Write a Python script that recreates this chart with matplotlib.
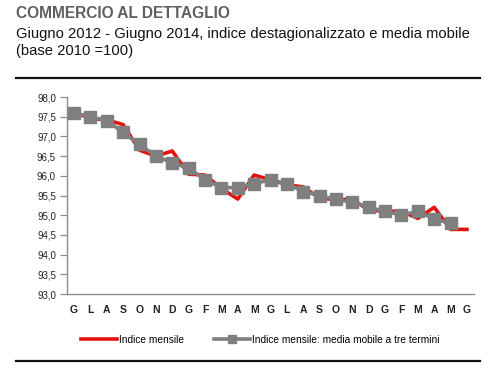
import matplotlib
matplotlib.use("Agg")
import matplotlib.pyplot as plt
from matplotlib.lines import Line2D
from matplotlib.ticker import FuncFormatter

months = ["G","L","A","S","O","N","D","G","F","M","A","M",
          "G","L","A","S","O","N","D","G","F","M","A","M","G"]
indice_mensile = [97.62, 97.45, 97.42, 97.30, 96.65, 96.50, 96.63, 96.04, 96.02, 95.68, 95.41, 96.02,
                  95.90, 95.77, 95.72, 95.43, 95.40, 95.40, 95.13, 95.10, 95.10, 94.92, 95.20, 94.64, 94.64]
media_mobile = [97.60, 97.50, 97.40, 97.10, 96.80, 96.50, 96.33, 96.20, 95.90, 95.70, 95.70, 95.80,
                95.90, 95.80, 95.60, 95.50, 95.40, 95.33, 95.20, 95.10, 95.00, 95.10, 94.90, 94.80]
yticks = [93.0, 93.5, 94.0, 94.5, 95.0, 95.5, 96.0, 96.5, 97.0, 97.5, 98.0]

plt.rcParams['font.family'] = ['Liberation Sans', 'DejaVu Sans']

fig = plt.figure(figsize=(5.0, 3.89), dpi=100)
ax = fig.add_axes([0.134, 0.2442, 0.814, 0.5064])

x = list(range(len(months)))
ax.plot(x, indice_mensile, color='#e3120b', lw=2.6, zorder=2)
ax.plot(range(len(media_mobile)), media_mobile, color='#7f7f7f', lw=2.6,
        marker='s', ms=8, mfc='#7f7f7f', mec='#7f7f7f', zorder=3)

ax.set_xlim(-0.43, 24.43)
ax.set_ylim(93.0, 98.0)
ax.set_yticks(yticks)
ax.yaxis.set_major_formatter(FuncFormatter(lambda v, p: f"{v:.1f}".replace('.', ',')))
ax.set_xticks(x)
ax.set_xticklabels(months)
ax.tick_params(axis='y', length=5, width=0.9, color='#8c8c8c', labelsize=7, pad=3, labelcolor='#222222')
ax.tick_params(axis='x', length=0, labelsize=7.5, pad=8, labelcolor='#222222')
for lab in ax.get_xticklabels():
    lab.set_fontweight('bold')
for s in ['top', 'right']:
    ax.spines[s].set_visible(False)
for s in ['left', 'bottom']:
    ax.spines[s].set_color('#8c8c8c')
    ax.spines[s].set_linewidth(1.0)

fig.text(0.032, 0.965, "COMMERCIO AL DETTAGLIO", fontsize=11.2, fontweight='bold',
         color='#5f5f5f', va='center', ha='left')
fig.text(0.032, 0.912, "Giugno 2012 - Giugno 2014, indice destagionalizzato e media mobile",
         fontsize=10.6, color='#111111', va='center', ha='left')
fig.text(0.032, 0.868, "(base 2010 =100)", fontsize=10.6, color='#111111', va='center', ha='left')

fig.add_artist(Line2D([0.032, 0.96], [0.800, 0.800], color='#111111', lw=1.6))
fig.add_artist(Line2D([0.032, 0.96], [0.072, 0.072], color='#111111', lw=1.6))

handles = [Line2D([], [], color='#e3120b', lw=2.6),
           Line2D([], [], color='#7f7f7f', lw=2.6, marker='s', ms=6)]
leg = fig.legend(handles, ["Indice mensile", "Indice mensile: media mobile a tre termini"],
                 loc='center', bbox_to_anchor=(0.52, 0.126), ncol=2, frameon=False,
                 fontsize=7.3, handlelength=3.6, handletextpad=0.15, columnspacing=3.0)

fig.savefig("out.png", dpi=100)
